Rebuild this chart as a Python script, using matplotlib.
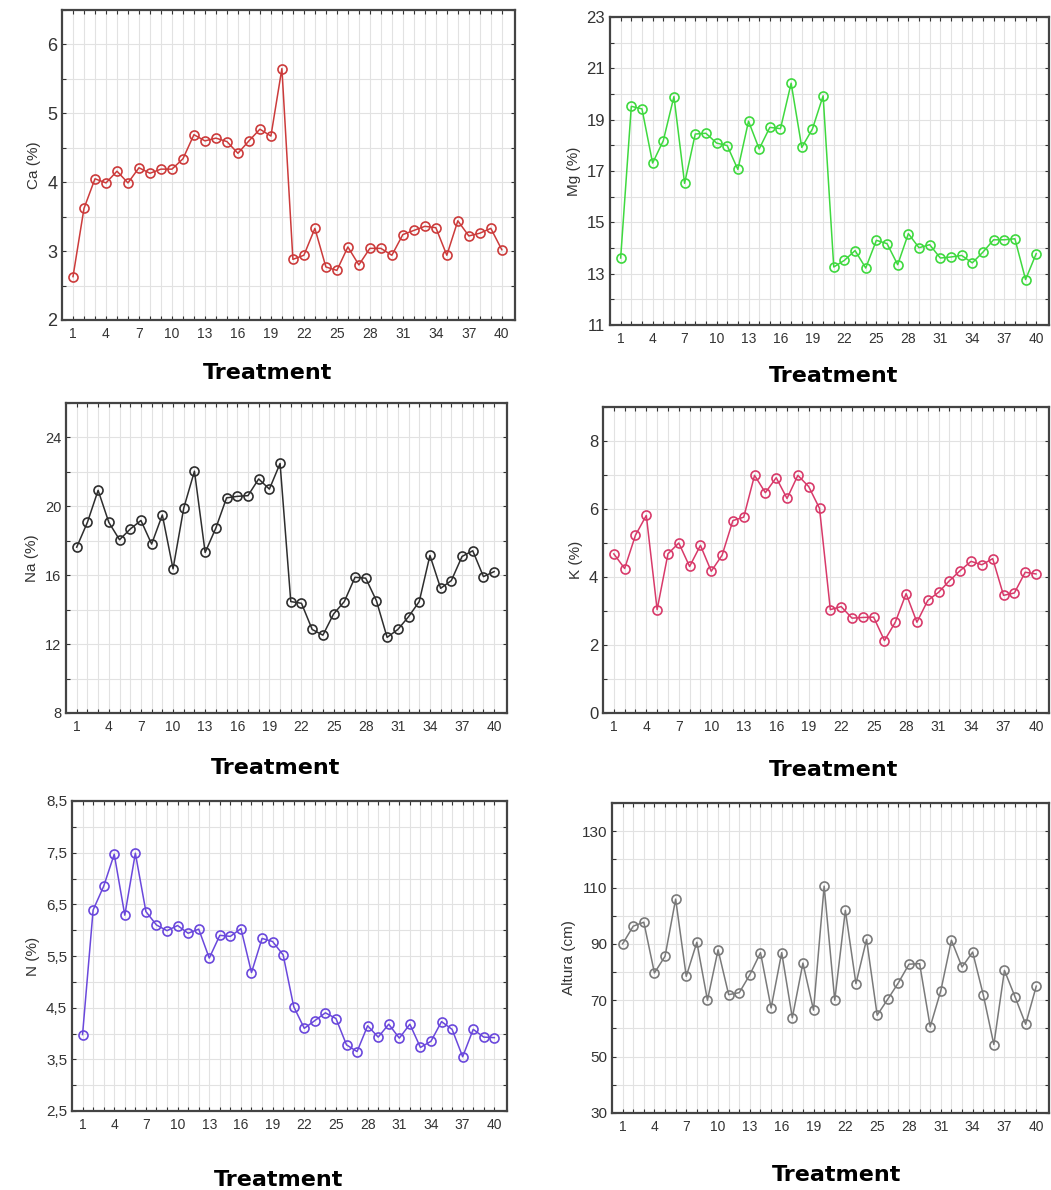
import matplotlib
matplotlib.use("Agg")
import matplotlib.pyplot as plt
from matplotlib.ticker import FixedLocator, FuncFormatter

plt.rcParams["font.family"] = ["Liberation Sans", "DejaVu Sans"]

# ---- data ----
treatment = list(range(1, 41))

ca = [2.63, 3.62, 4.05, 3.99, 4.16, 3.99, 4.21, 4.13, 4.19, 4.19,
      4.34, 4.69, 4.60, 4.64, 4.59, 4.42, 4.60, 4.77, 4.67, 5.65,
      2.88, 2.94, 3.33, 2.77, 2.72, 3.06, 2.80, 3.04, 3.04, 2.94,
      3.24, 3.30, 3.36, 3.34, 2.94, 3.44, 3.22, 3.26, 3.33, 3.02]

mg = [13.61, 19.52, 19.42, 17.31, 18.18, 19.90, 16.52, 18.44, 18.47, 18.09,
      17.99, 17.06, 18.94, 17.86, 18.70, 18.65, 20.42, 17.92, 18.64, 19.93,
      13.26, 13.52, 13.90, 13.22, 14.30, 14.17, 13.35, 14.56, 14.01, 14.13,
      13.61, 13.65, 13.71, 13.42, 13.84, 14.32, 14.32, 14.36, 12.77, 13.78]

na = [17.63, 19.07, 20.93, 19.07, 18.06, 18.68, 19.18, 17.81, 19.50, 16.37,
      19.90, 22.04, 17.32, 18.74, 20.49, 20.58, 20.62, 21.59, 21.00, 22.49,
      14.47, 14.37, 12.85, 12.52, 13.75, 14.47, 15.88, 15.83, 14.52, 12.39,
      12.85, 13.59, 14.47, 17.15, 15.24, 15.69, 17.09, 17.42, 15.92, 16.21]

k = [4.68, 4.25, 5.23, 5.81, 3.04, 4.68, 5.00, 4.31, 4.93, 4.17,
     4.64, 5.66, 5.76, 6.99, 6.48, 6.92, 6.31, 6.99, 6.66, 6.02,
     3.04, 3.13, 2.79, 2.81, 2.82, 2.13, 2.67, 3.51, 2.67, 3.31,
     3.55, 3.89, 4.19, 4.46, 4.36, 4.54, 3.46, 3.53, 4.14, 4.09]

n = [3.98, 6.39, 6.85, 7.47, 6.29, 7.49, 6.36, 6.10, 5.99, 6.09,
     5.94, 6.02, 5.46, 5.90, 5.88, 6.03, 5.18, 5.84, 5.78, 5.52,
     4.52, 4.10, 4.25, 4.40, 4.29, 3.78, 3.65, 4.15, 3.93, 4.18,
     3.91, 4.18, 3.73, 3.85, 4.23, 4.08, 3.55, 4.08, 3.93, 3.92]

altura = [90.0, 96.3, 97.7, 79.7, 85.6, 105.9, 78.5, 90.6, 70.0, 87.9,
          72.0, 72.7, 79.1, 86.9, 67.3, 86.9, 63.8, 83.2, 66.5, 110.5,
          70.0, 101.9, 75.9, 91.6, 64.7, 70.4, 76.2, 82.8, 83.0, 60.6,
          73.4, 91.3, 81.8, 87.1, 72.0, 54.3, 80.6, 71.2, 61.5, 75.0]

x_labels = [1, 4, 7, 10, 13, 16, 19, 22, 25, 28, 31, 34, 37, 40]

FW, FH = 1051, 1190


def place(fig, left, top, right, bottom):
    # pixel box -> figure fraction axes
    return fig.add_axes([left / FW, 1 - bottom / FH, (right - left) / FW, (bottom - top) / FH])


def panel(ax, y, ylabel, color, ylim, major, minor, fsize, lab_xy, comma=False):
    ax.plot(treatment, y, "-o", color=color, lw=1.1, ms=6.5,
            mfc="none", mec=color, mew=1.2, zorder=3)
    ax.set_xlim(0, 41.2)
    ax.set_ylim(*ylim)
    ax.xaxis.set_major_locator(FixedLocator(x_labels))
    ax.xaxis.set_minor_locator(FixedLocator(treatment))
    ax.yaxis.set_major_locator(FixedLocator(major))
    ax.yaxis.set_minor_locator(FixedLocator(minor))
    if comma:
        ax.yaxis.set_major_formatter(FuncFormatter(lambda v, p: f"{v:.1f}".replace(".", ",")))
    ax.grid(which="both", color="#e2e2e2", lw=0.8, zorder=0)
    ax.tick_params(which="both", direction="in", top=True, right=True,
                   color="#333", length=3, width=0.8)
    ax.tick_params(axis="y", labelsize=fsize, labelcolor="#333")
    ax.tick_params(axis="x", labelsize=10, labelcolor="#333", pad=5)
    for s in ax.spines.values():
        s.set_color("#444")
        s.set_linewidth(1.6)
    ax.set_ylabel(ylabel, fontsize=11, color="#333")
    ax.set_xlabel("Treatment", fontsize=16, fontweight="bold", family="DejaVu Sans")
    ax.xaxis.set_label_coords(*lab_xy)
    ax.xaxis.label.set_va("center")


fig = plt.figure(figsize=(FW / 100, FH / 100), dpi=100)

ax1 = place(fig, 62, 10, 515, 320)
panel(ax1, ca, "Ca (%)", "#cc3b3b", (2, 6.5), [2, 3, 4, 5, 6],
      [2.5, 3.5, 4.5, 5.5, 6.5], 13, (0.453, -0.171))

ax2 = place(fig, 610, 17, 1049, 325)
panel(ax2, mg, "Mg (%)", "#3fd93f", (11, 23), [11, 13, 15, 17, 19, 21, 23],
      [12, 14, 16, 18, 20, 22], 12, (0.51, -0.166))

ax3 = place(fig, 66, 403, 507, 713)
panel(ax3, na, "Na (%)", "#2e2e2e", (8, 26), [8, 12, 16, 20, 24],
      [10, 14, 18, 22, 26], 10.5, (0.476, -0.177))

ax4 = place(fig, 603, 407, 1049, 713)
panel(ax4, k, "K (%)", "#d83a6a", (0, 9), [0, 2, 4, 6, 8],
      [1, 3, 5, 7, 9], 12, (0.518, -0.186))

ax5 = place(fig, 72, 801, 507, 1111)
panel(ax5, n, "N (%)", "#6a48dc", (2.5, 8.5), [2.5, 3.5, 4.5, 5.5, 6.5, 7.5, 8.5],
      [3, 4, 5, 6, 7, 8], 11, (0.474, -0.223), comma=True)

ax6 = place(fig, 612, 803, 1049, 1113)
panel(ax6, altura, "Altura (cm)", "#7a7a7a", (30, 140), [30, 50, 70, 90, 110, 130],
      [40, 60, 80, 100, 120, 140], 11, (0.513, -0.2))

fig.savefig("out.png", dpi=100)
